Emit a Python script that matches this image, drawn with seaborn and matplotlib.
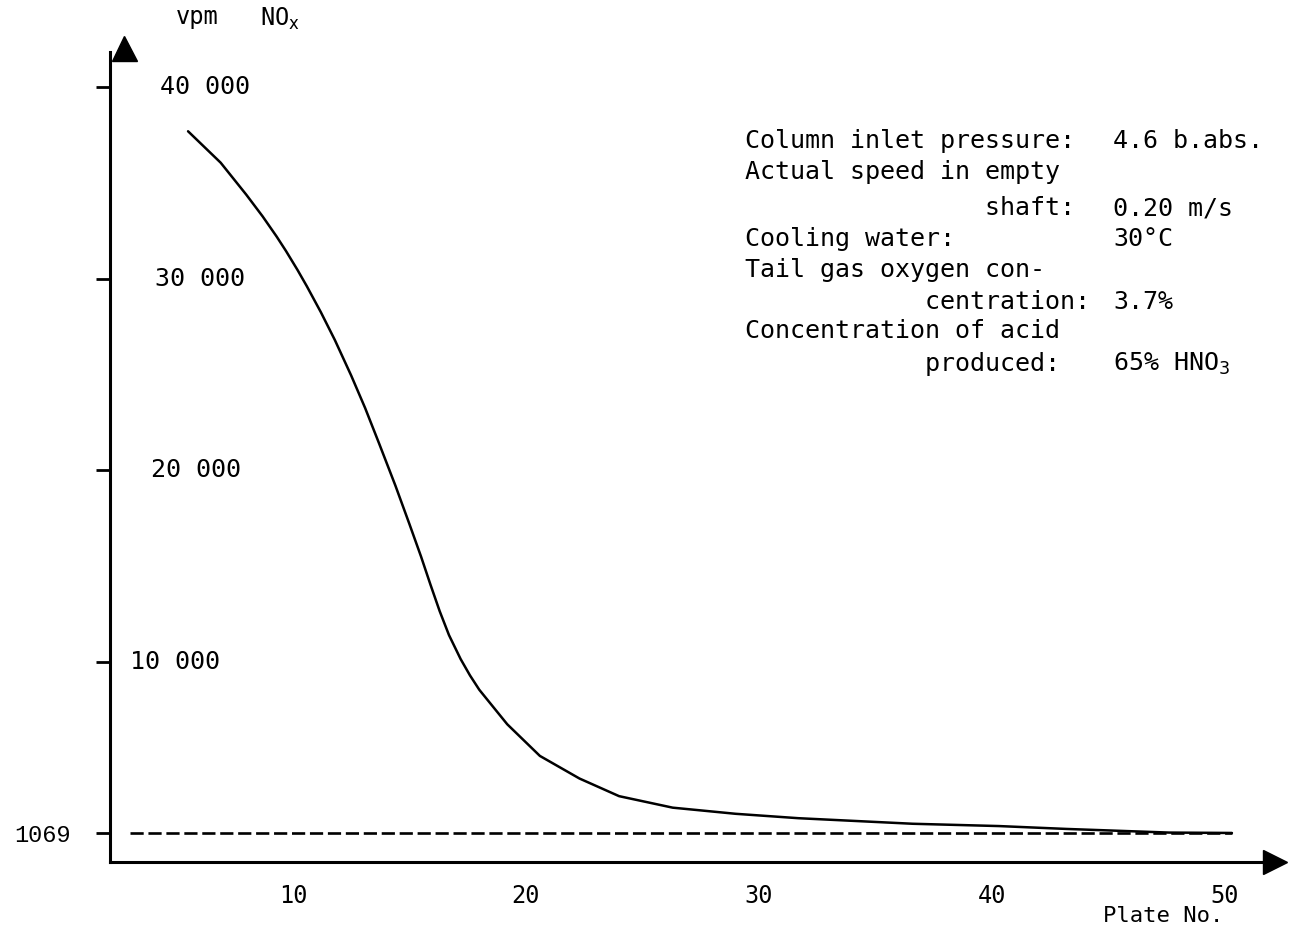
import numpy as np
import pandas as pd
import seaborn as sns
from matplotlib import pyplot as plt

# 01 - Data
plate_no = [5.5, 6.9, 8.0, 8.7, 9.3, 9.7, 10.2, 10.6, 11.2, 11.8, 12.5, 13.1, 13.7, 14.4,
            15.0, 15.5, 15.9, 16.3, 16.7, 17.2, 17.6, 18.0, 19.2, 20.6, 22.3, 24.0, 26.3,
            29.0, 31.7, 36.6, 40.3, 43.2, 47.6, 50.3]
vpm_nox = [37690, 36050, 34380, 33250, 32200, 31450, 30450, 29600, 28250, 26800, 24950, 23250, 21400, 19200,
           17200, 15500, 14050, 12650, 11400, 10150, 9300, 8550, 6750, 5100, 3920, 3000, 2400,
           2080, 1850, 1560, 1440, 1290, 1100, 1080]

limit_plates = [3.0, 50.3]
limit_vpm = 1069

y_ticks = [10000, 20000, 30000, 40000]
y_tick_labels = ["10 000", "20 000", "30 000", "40 000"]
x_ticks = [10, 20, 30, 40, 50]

cond_labels = ["Column inlet pressure:", "Actual speed in empty", "                shaft:",
               "Cooling water:", "Tail gas oxygen con-", "            centration:",
               "Concentration of acid", "            produced:"]
cond_values = ["4.6 b.abs.", "", "0.20 m/s", "30°C", "", "3.7%", "", "65% HNO$_3$"]

curve = pd.DataFrame({"plate": plate_no, "vpm": vpm_nox})
limit = pd.DataFrame({"plate": limit_plates, "vpm": [limit_vpm] * len(limit_plates)})

# 02 - Style
sns.set_style("white")
plt.rcParams['font.family'] = ['DejaVu Sans Mono', 'DejaVu Sans']
plt.rcParams['text.color'] = 'black'
plt.rcParams['xtick.color'] = 'black'
plt.rcParams['ytick.color'] = 'black'
W, H = 1311, 934

fig = plt.figure(figsize=(W / 100, H / 100), dpi=100)
ax = fig.add_axes([110 / W, 1 - 862 / H, (1275 - 110) / W, (862 - 52) / H])


def px(x, y):
    return x / W, 1 - y / H


# 03 - Marks
sns.lineplot(data=curve, x="plate", y="vpm", ax=ax, color="black", lw=1.8, sort=False,
             solid_joinstyle="round", solid_capstyle="round")
sns.lineplot(data=limit, x="plate", y="vpm", ax=ax, color="black", lw=1.9,
             linestyle=(0, (5, 1.8)))

ax.set_xlim(2.15, 52.15)
ax.set_ylim(-435, 41826)

# 04 - Axes, hand drawn look
for side in ["top", "right"]:
    ax.spines[side].set_visible(False)
for side in ["left", "bottom"]:
    ax.spines[side].set_linewidth(2.2)
    ax.spines[side].set_color("black")

ax.plot(1, 0, marker=">", ms=17, color="black", transform=ax.transAxes, clip_on=False)
ax.plot(0.012, 1.005, marker="^", ms=18, color="black", transform=ax.transAxes, clip_on=False)

ax.set_yticks([limit_vpm] + y_ticks)
ax.set_yticklabels(["1069"] + [""] * len(y_ticks), fontsize=17, family="Liberation Mono")
ax.tick_params(axis="y", direction="out", length=10, width=2, pad=18, left=True)
for v, lab, xpos in zip(y_ticks, y_tick_labels, [3.0, 3.9, 4.1, 4.3]):
    ax.text(xpos, v, lab, fontsize=18, va="center", ha="left")

ax.set_xticks(x_ticks)
ax.set_xticklabels([str(t) for t in x_ticks], fontsize=17)
ax.tick_params(axis="x", length=0, pad=16)
ax.set_xlabel("")
ax.set_ylabel("")

fig.text(*px(176, 17), "vpm", fontsize=17, va="center", ha="left")
fig.text(*px(260, 19), "NO$_\\mathrm{x}$", fontsize=17, va="center", ha="left")
fig.text(*px(1103, 916), "Plate No.", fontsize=16, va="center", ha="left")

# 05 - Operating conditions
line_y = [141, 172, 208, 239, 270, 302, 331, 364]
for lab, val, y in zip(cond_labels, cond_values, line_y):
    fig.text(*px(745, y), lab, fontsize=18, va="center", ha="left")
    if val:
        fig.text(*px(1113, y), val, fontsize=18, va="center", ha="left")

fig.savefig("out.png", dpi=100)
